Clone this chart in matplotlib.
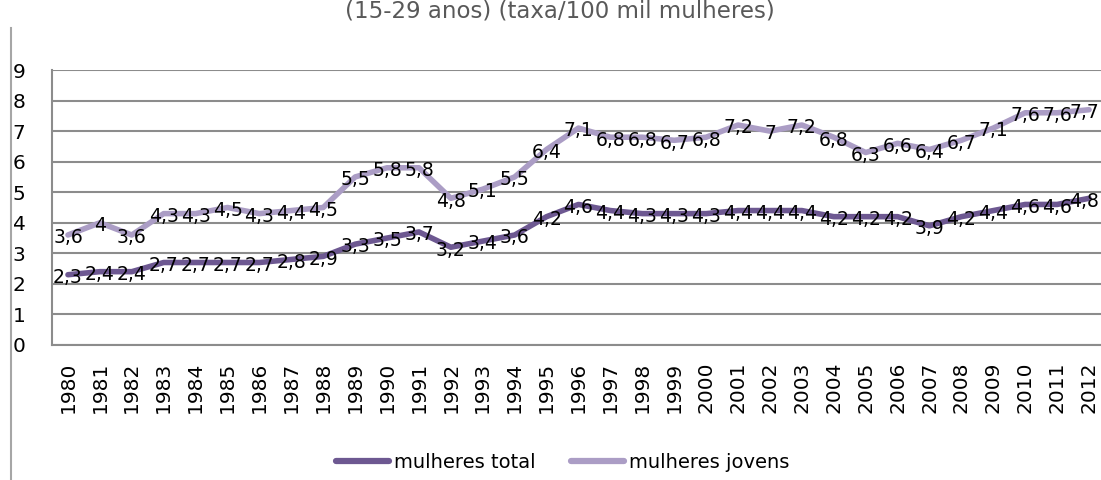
import matplotlib
matplotlib.use('Agg')
import matplotlib.pyplot as plt
from matplotlib.lines import Line2D

years = [str(y) for y in range(1980, 2013)]
mulheres_total = [2.3, 2.4, 2.4, 2.7, 2.7, 2.7, 2.7, 2.8, 2.9, 3.3, 3.5, 3.7, 3.2, 3.4, 3.6, 4.2, 4.6,
                  4.4, 4.3, 4.3, 4.3, 4.4, 4.4, 4.4, 4.2, 4.2, 4.2, 3.9, 4.2, 4.4, 4.6, 4.6, 4.8]
mulheres_jovens = [3.6, 4, 3.6, 4.3, 4.3, 4.5, 4.3, 4.4, 4.5, 5.5, 5.8, 5.8, 4.8, 5.1, 5.5, 6.4, 7.1,
                   6.8, 6.8, 6.7, 6.8, 7.2, 7, 7.2, 6.8, 6.3, 6.6, 6.4, 6.7, 7.1, 7.6, 7.6, 7.7]
yticks = list(range(0, 10))

c_total = '#6D5891'
c_jovens = '#AB9DC5'
grid_c = '#8C8C8C'

W, H = 1101, 480
fig = plt.figure(figsize=(W/100, H/100), dpi=100)
ax = fig.add_axes([52/W, 1-345/H, 1053/W, 275/H])

x = list(range(len(years)))
ax.plot(x, mulheres_total, color=c_total, lw=4, solid_joinstyle='round', solid_capstyle='round', zorder=3)
ax.plot(x, mulheres_jovens, color=c_jovens, lw=4, solid_joinstyle='round', solid_capstyle='round', zorder=3)

def fmt(v):
    return ('%g' % v).replace('.', ',')

last = len(years) - 1
for serie in (mulheres_total, mulheres_jovens):
    for i, v in enumerate(serie):
        dx = -3.5 if i == last else 0   # keep the last label inside the figure
        ax.annotate(fmt(v), (i, v), xytext=(dx, -2), textcoords='offset points',
                    ha='center', va='center', fontsize=13.5, color='black', zorder=5,
                    annotation_clip=False)

ax.set_xlim(-0.5, len(years) - 0.5)
ax.set_ylim(0, 9)
ax.set_yticks(yticks)
ax.set_yticklabels([str(t) for t in yticks], fontsize=14.5)
ax.set_xticks(x)
ax.set_xticklabels(years, rotation=90, fontsize=14.5, va='top')
ax.tick_params(axis='y', length=0, pad=19)
ax.tick_params(axis='x', length=0, pad=12)
ax.grid(axis='y', color=grid_c, lw=1.5, zorder=1)
for s in ('top', 'right'):
    ax.spines[s].set_visible(False)
for s in ('left', 'bottom'):
    ax.spines[s].set_color(grid_c)
    ax.spines[s].set_linewidth(1.5)

fig.text(560/W, 1-18/H, '(15-29 anos) (taxa/100 mil mulheres)', ha='center', va='baseline',
         fontsize=16.5, color='#595959')

# chart area border on the left
fig.add_artist(Line2D([10.5/W, 10.5/W], [0, 1-28/H], color='#A6A6A6', lw=1.5))

handles = [Line2D([], [], color=c_total, lw=4.5, solid_capstyle='round'),
           Line2D([], [], color=c_jovens, lw=4.5, solid_capstyle='round')]
fig.legend(handles, ['mulheres total', 'mulheres jovens'], loc='center',
           bbox_to_anchor=(563/W, 1-462/H), ncol=2, frameon=False, fontsize=14,
           handlelength=2.7, handletextpad=0.3, columnspacing=1.8)

fig.savefig('out.png', dpi=100)
